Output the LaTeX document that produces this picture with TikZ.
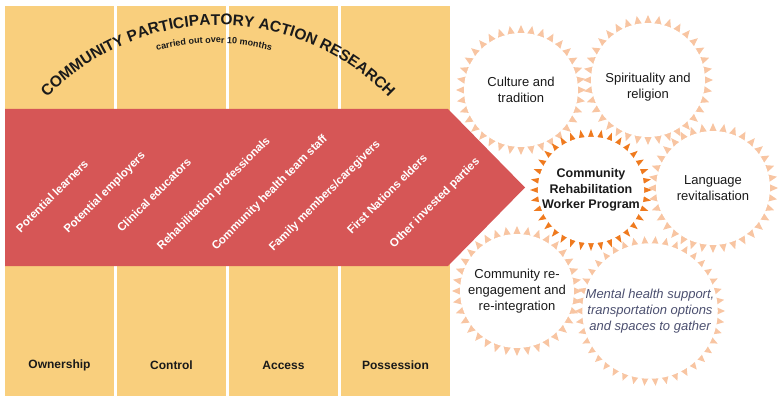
\documentclass[tikz,border=0pt]{standalone}
\usepackage{fontspec}
\setmainfont{Liberation Sans}
\usetikzlibrary{decorations.text}

\definecolor{ocap}{RGB}{249,207,125}
\definecolor{arrowred}{RGB}{214,86,86}
\definecolor{peach}{RGB}{248,197,162}
\definecolor{cogorange}{RGB}{239,122,30}
\definecolor{slate}{RGB}{76,80,112}
\definecolor{ink}{RGB}{26,26,26}

% ring of triangular teeth: centre, inner radius, outer radius, number of teeth, colour
\newcommand{\cogring}[5]{\foreach \k in {1,...,#4}
  \fill[#5,shift={(#1)}] ({(\k-0.42)*360/#4}:{#2-1}) -- ({\k*360/#4}:{#3}) -- ({(\k+0.42)*360/#4}:{#2-1}) -- cycle;}

\begin{document}
\begin{tikzpicture}[x=1pt,y=1pt,
  pillar/.style={fill=ocap},
  pillarlabel/.style={font=\fontsize{12}{14}\selectfont\bfseries,text=ink},
  party/.style={font=\fontsize{11.5}{13}\selectfont\bfseries,text=white,rotate=45,inner sep=0pt},
  cog/.style={circle,fill=white,inner sep=0pt,align=center,text=ink,font=\fontsize{13}{16}\selectfont}]
\useasboundingbox (0,0) rectangle (784,-401);

% OCAP pillars
\foreach \i/\lab in {0/Ownership,1/Control,2/Access,3/Possession} {
  \fill[pillar] (5+112*\i,-6) rectangle (114+112*\i,-396);
  \node[pillarlabel] (pillar\i) at (59.5+112*\i,-365) {\lab};
}

% cogs
\cogring{521,-90}{57}{65}{36}{peach}
\node[cog,minimum size=114pt] (culture) at (521,-90) {Culture and\\tradition};
\cogring{648,-80}{57}{65}{36}{peach}
\node[cog,minimum size=114pt] (spirit) at (648,-80) {\rule{0pt}{24pt}Spirituality and\\religion};
\cogring{713,-188}{57}{65}{36}{peach}
\node[cog,minimum size=114pt] (language) at (713,-188) {Language\\revitalisation};
\cogring{517,-291}{57}{65}{36}{peach}
\node[cog,minimum size=114pt] (reengage) at (517,-291) {Community re-\\engagement and\\re-integration};
\cogring{650,-311}{67}{75}{42}{peach}
\node[cog,minimum size=134pt,text=slate,font=\fontsize{13}{16}\selectfont\itshape] (mental) at (650,-311)
  {Mental health support,\\transportation options\\and spaces to gather};
\cogring{591,-190}{52}{61}{36}{cogorange}
\node[cog,minimum size=104pt,font=\fontsize{12.5}{15.5}\selectfont\bfseries] (crwp) at (591,-190)
  {Community\\Rehabilitation\\Worker Program};

% arrow
\fill[arrowred] (5,-109) -- (448,-109) -- (525,-187.5) -- (448,-266) -- (5,-266) -- cycle;
\foreach \x/\y/\txt [count=\n] in {52/196/Potential learners, 105/193/Potential employers,
    154/195/Clinical educators, 214/194/Rehabilitation professionals,
    270/193/Community health team staff, 325/196/{Family members/caregivers},
    387/194/First Nations elders, 435/203/Other invested parties}
  \node[party] (party\n) at (\x,-\y) {\txt};

% curved title
\path[decorate,decoration={text along path,text align=center,text color=ink,
    text={|\fontsize{15.5}{18}\selectfont\bfseries|COMMUNITY PARTICIPATORY ACTION RESEARCH}}]
  (218,-262) ++(150:237) arc[start angle=150,end angle=30,radius=237];
\path[decorate,decoration={text along path,text align=center,text color=ink,
    text={|\fontsize{9}{11}\selectfont\bfseries|carried out over 10 months}}]
  (214,-262) ++(150:219) arc[start angle=150,end angle=30,radius=219];
\end{tikzpicture}
\end{document}
